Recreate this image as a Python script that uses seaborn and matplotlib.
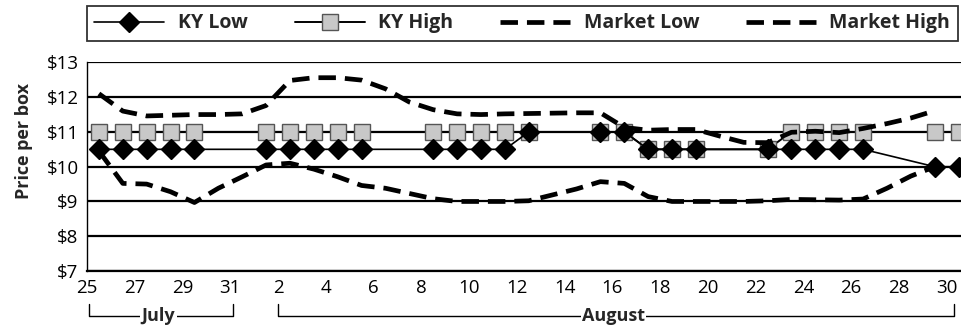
# KY vs market prices per box, late July through August

import numpy as np
import pandas as pd
import matplotlib as mpl
mpl.use('Agg')
import matplotlib.pyplot as plt
import seaborn as sns

# day numbers counted from July 25 (= 0) to August 30 (= 36)
ky_days = [0, 1, 2, 3, 4, 7, 8, 9, 10, 11, 14, 15, 16, 17, 18, 21, 22,
           23, 24, 25, 28, 29, 30, 31, 32, 35, 36]
ky_low = [10.5, 10.5, 10.5, 10.5, 10.5, 10.5, 10.5, 10.5, 10.5, 10.5,
          10.5, 10.5, 10.5, 10.5, 11, 11, 11, 10.5, 10.5, 10.5,
          10.5, 10.5, 10.5, 10.5, 10.5, 10, 10]
ky_high = [11, 11, 11, 11, 11, 11, 11, 11, 11, 11,
           11, 11, 11, 11, 11, 11, 11, 10.5, 10.5, 10.5,
           10.5, 11, 11, 11, 11, 11, 11]

mkt_days = list(range(0, 36))
mkt_low = [10.45, 9.52, 9.5, 9.28, 8.97, 9.38, 9.71, 10.05, 10.1, 9.93,
           9.71, 9.46, 9.38, 9.23, 9.08, 9.0, 9.0, 9.0, 9.02, 9.19,
           9.36, 9.57, 9.52, 9.14, 9.0, 9.0, 9.0, 9.0, 9.02, 9.06,
           9.05, 9.04, 9.07, 9.38, 9.73, 10.0]
mkt_high = [12.1, 11.6, 11.46, 11.48, 11.5, 11.5, 11.52, 11.76, 12.48, 12.56,
            12.56, 12.49, 12.24, 11.86, 11.64, 11.52, 11.5, 11.52, 11.53, 11.54,
            11.55, 11.55, 11.13, 11.05, 11.07, 11.07, 10.88, 10.7, 10.69, 10.99,
            11.02, 10.98, 11.1, 11.24, 11.4, 11.61]

tick_days = [0, 2, 4, 6, 8, 10, 12, 14, 16, 18, 20, 22, 24, 26, 28, 30, 32, 34, 36]
tick_labels = ['25', '27', '29', '31', '2', '4', '6', '8', '10', '12', '14',
               '16', '18', '20', '22', '24', '26', '28', '30']
price_ticks = [7, 8, 9, 10, 11, 12, 13]
price_labels = [r'\$7', r'\$8', r'\$9', r'\$10', r'\$11', r'\$12', r'\$13']

sns.set_style('white')
plt.rcParams['font.family'] = ['Open Sans', 'DejaVu Sans']

fig = plt.figure(figsize=(9.61, 3.26), dpi=100)
ax = fig.add_axes([0.0905, 0.1687, 0.9095, 0.642])

ky = pd.DataFrame({'day': np.array(ky_days) + 0.5, 'low': ky_low, 'high': ky_high})
mkt = pd.DataFrame({'day': np.array(mkt_days) + 0.5, 'low': mkt_low, 'high': mkt_high})

dash = (0, (3.7, 1.9))
sns.lineplot(data=ky, x='day', y='high', ax=ax, color='black', lw=1.4,
             marker='s', ms=12, mfc='#c8c8c8', mec='#555555', mew=1,
             label='KY High', zorder=3)
sns.lineplot(data=ky, x='day', y='low', ax=ax, color='black', lw=1.2,
             marker='D', ms=10, mfc='black', mec='black', mew=1,
             label='KY Low', zorder=4)
sns.lineplot(data=mkt, x='day', y='low', ax=ax, color='black', lw=3.4,
             linestyle=dash, label='Market Low', zorder=5)
sns.lineplot(data=mkt, x='day', y='high', ax=ax, color='black', lw=3.4,
             linestyle=dash, label='Market High', zorder=6)

if ax.get_legend() is not None:
    ax.get_legend().remove()

ax.set_xlim(0, 36.6)
ax.set_ylim(7, 13.02)
ax.set_xticks(tick_days)
ax.set_xticklabels(tick_labels)
ax.set_yticks(price_ticks)
ax.set_yticklabels(price_labels)
ax.yaxis.grid(True, color='black', lw=1.6)
ax.set_axisbelow(True)
ax.set_xlabel('')
ax.set_ylabel('Price per box', fontweight='bold', fontsize=13)
ax.yaxis.set_label_coords(-0.062, 0.621)

for side in ['top', 'right']:
    ax.spines[side].set_visible(False)
ax.spines['left'].set_color('black')
ax.spines['left'].set_linewidth(1)
ax.spines['bottom'].set_color('black')
ax.spines['bottom'].set_linewidth(1.6)
ax.tick_params(axis='both', direction='out', length=5, width=1, color='black',
               labelsize=13.5, labelcolor='black', pad=1)

# month brackets under the date axis
trans = ax.get_xaxis_transform()
for x0, x1, name in [(0.1, 6.1, 'July'), (8.0, 36.3, 'August')]:
    ax.plot([x0, x0, x1, x1], [-0.158, -0.215, -0.215, -0.158], transform=trans,
            color='black', lw=1, clip_on=False)
    ax.text((x0 + x1) / 2 - 0.1, -0.215, name, transform=trans, ha='center',
            va='center', fontweight='bold', fontsize=13,
            bbox=dict(facecolor='white', edgecolor='none', pad=1))

handles, labels = ax.get_legend_handles_labels()
order = [labels.index(n) for n in ['KY Low', 'KY High', 'Market Low', 'Market High']]
leg = fig.legend([handles[i] for i in order], [labels[i] for i in order],
                 ncol=4, loc='center', mode='expand',
                 bbox_to_anchor=(0.0902, 0.872, 0.9067, 0.1126),
                 prop={'weight': 'bold', 'size': 14}, handlelength=3.6,
                 handletextpad=0.7, frameon=True, fancybox=False,
                 borderaxespad=0, borderpad=0.4)
leg.get_frame().set_edgecolor('black')
leg.get_frame().set_linewidth(1.3)

plt.savefig('out.png', dpi=100)
